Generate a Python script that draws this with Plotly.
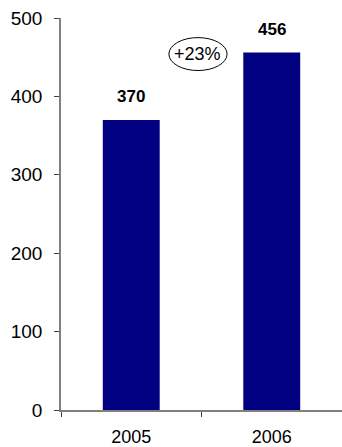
import plotly.graph_objects as go

years = ["2005", "2006"]
values = [370, 456]
growth_label = "+23%"

font = "Liberation Sans, Arial, sans-serif"

fig = go.Figure(
    go.Bar(
        x=years,
        y=values,
        marker=dict(color="#000080", line=dict(width=0)),
        width=0.405,
        hoverinfo="skip",
    )
)

# value labels above each bar (category index positions)
for i, v in enumerate(values):
    fig.add_annotation(
        xref="x", yref="y",
        x=i, y=v, text=f"<b>{v}</b>", showarrow=False,
        yshift=23, font=dict(family=font, size=17, color="black"),
    )

# growth callout in an ellipse between the bars
fig.add_shape(
    type="circle", xref="paper", yref="y",
    x0=0.384, x1=0.591, y0=433, y1=475,
    line=dict(color="black", width=1), fillcolor="rgba(0,0,0,0)",
)
fig.add_annotation(
    xref="paper", yref="y",
    x=0.4875, y=454, text=growth_label, showarrow=False,
    font=dict(family=font, size=18, color="black"),
)

fig.update_layout(
    width=342, height=447,
    margin=dict(l=61, r=0, t=18, b=37),
    plot_bgcolor="white", paper_bgcolor="white",
    showlegend=False,
)
fig.update_xaxes(
    type="category", categoryorder="array", categoryarray=years,
    range=[-0.5, 1.5],
    showline=True, linecolor="#808080", linewidth=1.5,
    ticks="outside", tickson="boundaries", ticklen=5, tickcolor="#404040",
    tickfont=dict(family=font, size=18, color="black"),
    ticklabelstandoff=10,
    tickangle=0,
    showgrid=False, zeroline=False,
)
fig.update_yaxes(
    range=[0, 500], tickvals=[0, 100, 200, 300, 400, 500],
    showline=True, linecolor="#808080", linewidth=1.5,
    ticks="outside", ticklen=5, tickcolor="#404040",
    tickfont=dict(family=font, size=19, color="black"),
    ticklabelstandoff=8,
    showgrid=False, zeroline=False,
)

fig.write_html("out.html")
